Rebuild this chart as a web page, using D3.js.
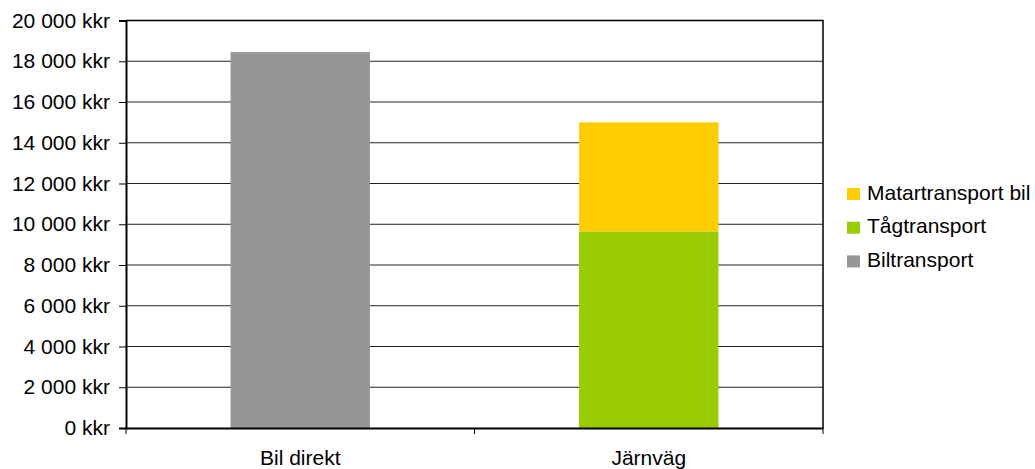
<!DOCTYPE html>
<html><head><meta charset="utf-8">
<script src="https://cdn.jsdelivr.net/npm/d3@7"></script>
<style>body{margin:0;background:#fff}svg{display:block}text{font-family:"Liberation Sans",Arial,sans-serif;fill:#000}</style>
</head><body><svg id="c" width="1035" height="469"></svg>
<script>
const categories = ["Bil direkt", "Järnväg"];
const seriesNames = ["Biltransport", "Tågtransport", "Matartransport bil"];
const biltransport = [18450, 0];
const tagtransport = [0, 9650];
const matartransport = [0, 5350];
const seriesColors = ["#969696", "#99cc00", "#ffcc00"];
const yTicks = [0, 2000, 4000, 6000, 8000, 10000, 12000, 14000, 16000, 18000, 20000];
const legendOrder = ["Matartransport bil", "Tågtransport", "Biltransport"];

const svg = d3.select("#c");
const L = 126, R = 823, T = 20.5, B = 428;
const x = d3.scaleBand().domain(categories).range([L, R]).padding(0);
const y = d3.scaleLinear().domain([0, 20000]).range([B, T]);
const fs = 21;

// gridlines
svg.append("g").selectAll("line").data(yTicks.filter(d => d > 0)).join("line")
  .attr("x1", L).attr("x2", R).attr("y1", d => y(d)).attr("y2", d => y(d))
  .attr("stroke", "#222").attr("stroke-width", 1);

// bars
const rows = categories.map((c, i) => ({cat: c, Biltransport: biltransport[i], "Tågtransport": tagtransport[i], "Matartransport bil": matartransport[i]}));
const stack = d3.stack().keys(seriesNames)(rows);
const bw = x.bandwidth() * 0.4;
svg.append("g").selectAll("g").data(stack).join("g")
  .attr("fill", (d, i) => seriesColors[i])
  .selectAll("rect").data(d => d.filter(p => p[1] > p[0])).join("rect")
  .attr("x", d => x(d.data.cat) + (x.bandwidth() - bw) / 2)
  .attr("width", bw)
  .attr("y", d => y(d[1]))
  .attr("height", d => y(d[0]) - y(d[1]));

// border top/right
svg.append("path").attr("d", `M${L},${T}H${R}V${B}`).attr("fill", "none").attr("stroke", "#000").attr("stroke-width", 1.5);

// y axis
const fmt = v => d3.format(",")(v).replace(/,/g, " ") + " kkr";
const ya = svg.append("g").attr("transform", `translate(${L},0)`)
  .call(d3.axisLeft(y).tickValues(yTicks).tickSize(7).tickPadding(9).tickFormat(fmt));
ya.select(".domain").attr("stroke", "#000").attr("stroke-width", 2);
ya.selectAll(".tick line").attr("stroke", "#000").attr("stroke-width", 1);
ya.selectAll("text").style("font-size", fs + "px").attr("fill", "#000");

// x axis
const xa = svg.append("g").attr("transform", `translate(0,${B})`)
  .call(d3.axisBottom(x).tickSize(0).tickPadding(22));
xa.select(".domain").attr("stroke", "#000").attr("stroke-width", 2);
xa.selectAll("text").style("font-size", fs + "px").attr("fill", "#000");
const bounds = [L, R].concat(categories.slice(1).map(c => x(c)));
xa.selectAll("line.sep").data(bounds).join("line").attr("class", "sep")
  .attr("x1", d => d).attr("x2", d => d).attr("y1", 0).attr("y2", 6)
  .attr("stroke", "#000").attr("stroke-width", 1);

// legend
const lg = svg.append("g").attr("transform", "translate(847,188)");
const li = lg.selectAll("g").data(legendOrder).join("g").attr("transform", (d, i) => `translate(0,${i * 33.7})`);
li.append("rect").attr("width", 13).attr("height", 12).attr("fill", d => seriesColors[seriesNames.indexOf(d)]);
li.append("text").attr("x", 20).attr("y", 11.5).style("font-size", fs + "px").text(d => d);
</script></body></html>
